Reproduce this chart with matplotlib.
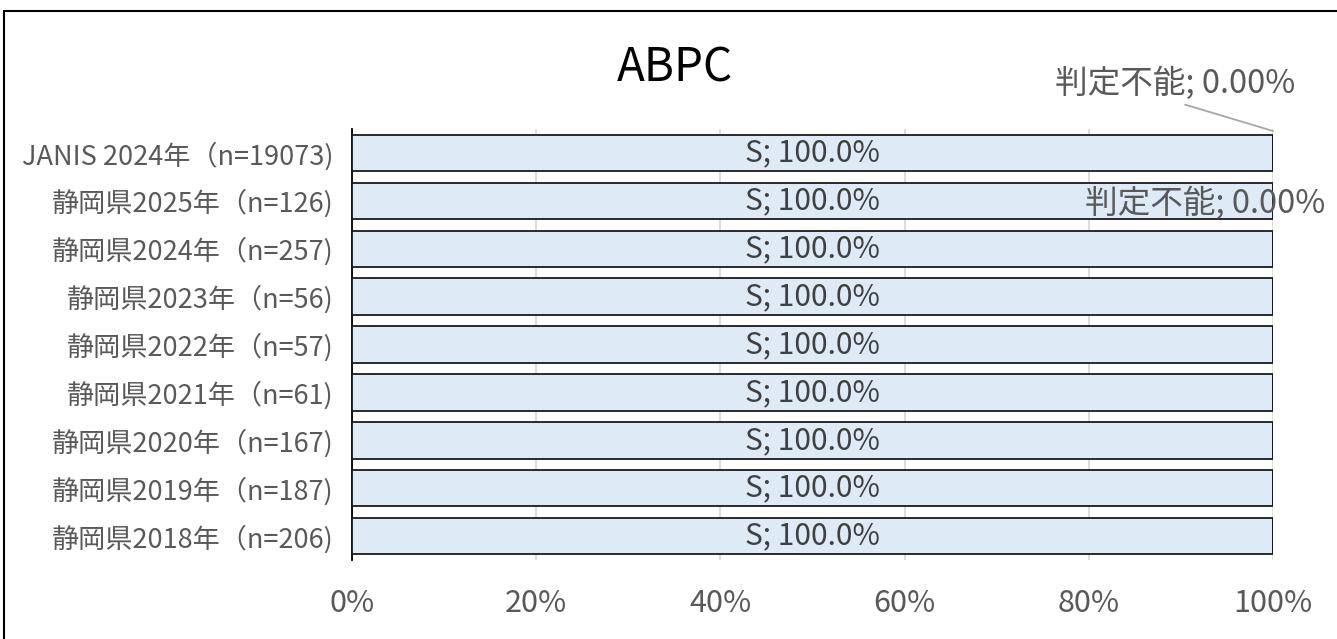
import matplotlib
matplotlib.use('Agg')
import matplotlib.pyplot as plt
from matplotlib.patches import Rectangle

plt.rcParams['font.family'] = ['Noto Sans CJK JP', 'DejaVu Sans']

# categories top to bottom
labels = ['JANIS 2024年（n=19073)', '静岡県2025年（n=126)', '静岡県2024年（n=257)',
          '静岡県2023年（n=56)', '静岡県2022年（n=57)', '静岡県2021年（n=61)',
          '静岡県2020年（n=167)', '静岡県2019年（n=187)', '静岡県2018年（n=206)']
s_pct = [100.0, 100.0, 100.0, 100.0, 100.0, 100.0, 100.0, 100.0, 100.0]
nd_pct = [0.0, 0.0, 0.0, 0.0, 0.0, 0.0, 0.0, 0.0, 0.0]
xticks = [0, 20, 40, 60, 80, 100]

txt = '#595959'

fig = plt.figure(figsize=(13.37, 6.39), dpi=100)
ax = fig.add_axes([0.2633, 0.1236, 0.9521 - 0.2633, 0.798 - 0.1236])

y = list(range(len(labels)))[::-1]
ax.barh(y, s_pct, height=0.76, color='#DEEBF7', edgecolor='#1a1a1a', linewidth=1.3, zorder=3)
ax.barh(y, nd_pct, left=s_pct, height=0.76, color='#BDD7EE', edgecolor='#1a1a1a', linewidth=1.3, zorder=3)

for yi, v in zip(y, s_pct):
    ax.text(v / 2, yi, f'S; {v:.1f}%', ha='center', va='center', fontsize=21.5, color='#404040', zorder=4)

# zero-width labels for 判定不能 (only shown on top two rows, as in original)
ax.annotate(f'判定不能; {nd_pct[0]:.2f}%', xy=(s_pct[0] + nd_pct[0], y[0] + 0.46),
            xytext=(89.4, y[0] + 1.45), ha='center', va='center', fontsize=23.5, color=txt,
            arrowprops=dict(arrowstyle='-', color='#A6A6A6', lw=1.3, shrinkA=4, shrinkB=0,
                            relpos=(0.48, 0.0)),
            annotation_clip=False, zorder=5)
ax.text(92.6, y[1] - 0.04, f'判定不能; {nd_pct[1]:.2f}%', ha='center', va='center', fontsize=23.5,
        color=txt, zorder=5, clip_on=False)

ax.set_xlim(0, 100)
ax.set_ylim(-0.5, len(labels) - 0.5)
ax.set_xticks(xticks)
ax.set_xticklabels([f'{t}%' for t in xticks], fontsize=22, color=txt)
ax.set_yticks(y)
ax.set_yticklabels(labels, fontsize=19.5, color=txt)
ax.tick_params(length=0)
ax.tick_params(axis='y', pad=13)
ax.tick_params(axis='x', pad=20)
ax.grid(axis='x', color='#D9D9D9', lw=1.3, zorder=0)
for sp in ['top', 'right', 'bottom']:
    ax.spines[sp].set_visible(False)
ax.spines['left'].set_color('#000000')
ax.spines['left'].set_linewidth(1.3)

fig.text(0.505, 0.893, 'ABPC', ha='center', va='center', fontsize=33, color='black')

fig.patches.append(Rectangle((4 / 1337, -0.1), 1.2, 1 - 11 / 639 + 0.1, transform=fig.transFigure,
                             fill=False, edgecolor='black', lw=1.5))

fig.savefig('out.png', dpi=100)
